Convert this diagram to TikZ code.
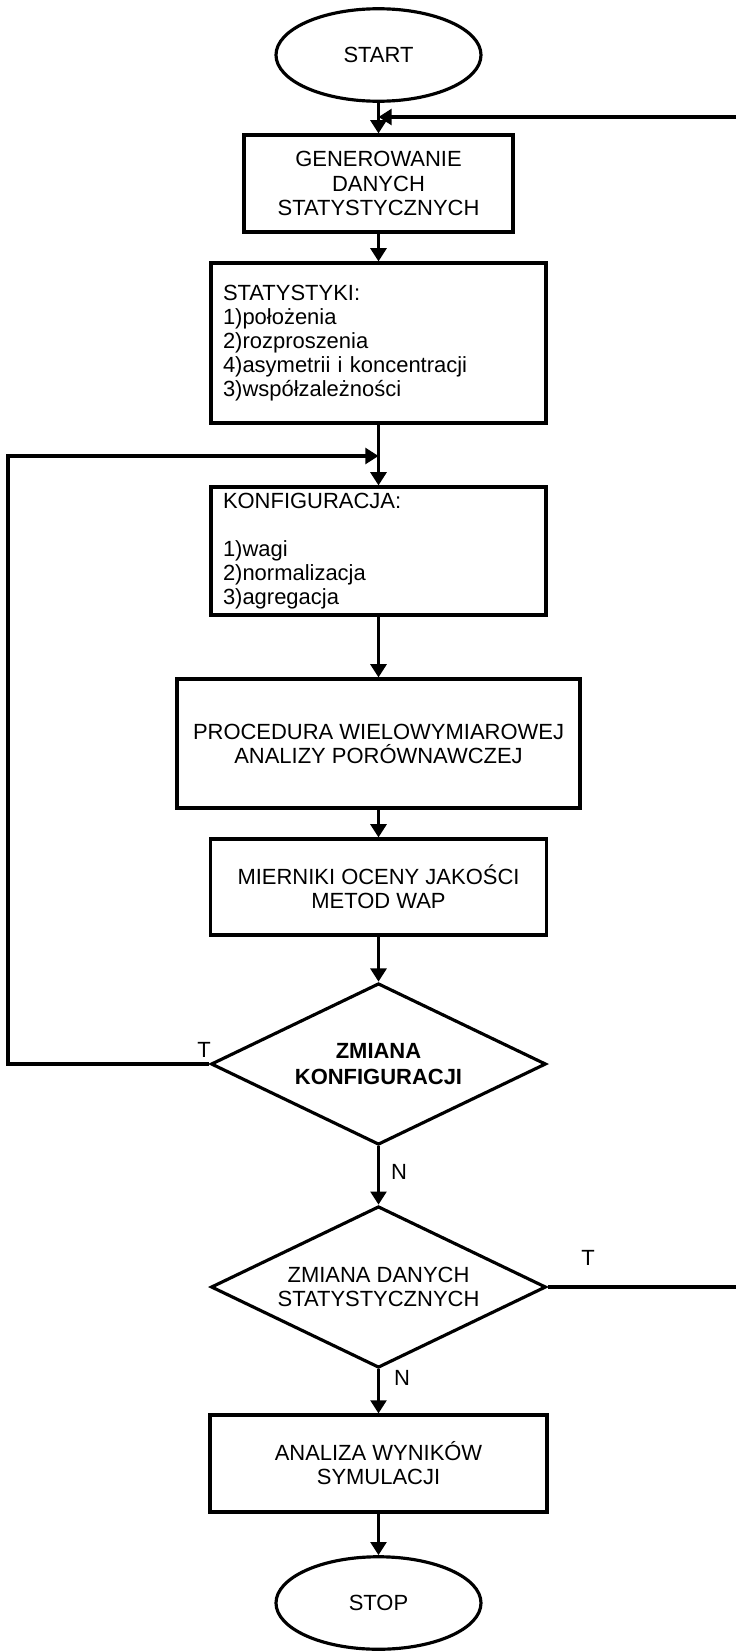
\documentclass[tikz,border=0pt]{standalone}
\usepackage{fontspec}
\setmainfont{Liberation Sans}
\usetikzlibrary{arrows.meta,shapes.geometric,calc}

\begin{document}
\begin{tikzpicture}[
  line width=1.8pt,
  every node/.style={font=\fontsize{12.5}{13.7}\selectfont},
  box/.style={draw,rectangle,align=center,inner sep=0pt},
  listbox/.style={draw,rectangle,align=left,inner xsep=0.24cm,inner ysep=0pt,text width=6.22cm},
  term/.style={draw,ellipse,minimum width=4.1cm,minimum height=1.85cm,inner sep=0pt},
  decision/.style={draw,diamond,shape aspect=2.07,minimum width=6.7cm,minimum height=3.23cm,inner sep=0pt,align=center},
  arr/.style={-{Triangle[length=7.5pt,width=9pt]}}
]
\useasboundingbox (0,0) rectangle (14.72,-33.02);
% the blocks of the chart
\node[term] (start) at (7.57,-1.10) {START};
\node[box,minimum width=5.38cm,minimum height=1.94cm] (gen) at (7.57,-3.67) {GENEROWANIE\\DANYCH\\STATYSTYCZNYCH};
\node[listbox,minimum height=3.2cm] (stat) at (7.57,-6.86) {STATYSTYKI:\\1)położenia\\2)rozproszenia\\4)asymetrii i koncentracji\\3)współzależności};
\node[listbox,minimum height=2.56cm] (konf) at (7.57,-11.02) {KONFIGURACJA:\\[13.7pt]1)wagi\\2)normalizacja\\3)agregacja};
\node[box,minimum width=8.06cm,minimum height=2.58cm] (proc) at (7.57,-14.87) {PROCEDURA WIELOWYMIAROWEJ\\ANALIZY PORÓWNAWCZEJ};
\node[box,minimum width=6.72cm,minimum height=1.92cm] (mier) at (7.57,-17.74) {MIERNIKI OCENY JAKOŚCI\\METOD WAP};
\node[decision,font=\fontsize{12.5}{14.6}\selectfont\bfseries] (zk) at (7.57,-21.28) {ZMIANA\\KONFIGURACJI};
\node[decision] (zd) at (7.57,-25.74) {ZMIANA DANYCH\\STATYSTYCZNYCH};
\node[box,minimum width=6.74cm,minimum height=1.94cm] (anal) at (7.57,-29.27) {ANALIZA WYNIKÓW\\SYMULACJI};
\node[term] (stop) at (7.57,-32.06) {STOP};
% the T and N answers
\node (zkT) at (4.08,-21.0) {T};
\node (zkN) at (7.98,-23.44) {N};
\node (zdT) at (11.76,-25.16) {T};
\node (zdN) at (8.04,-27.56) {N};
% the points of the loops
\coordinate (loopin) at (7.57,-2.34);
\coordinate (loopr) at (14.72,-2.34);
\coordinate (loopl) at (0.16,-9.12);
\coordinate (merge) at (7.57,-9.12);
\coordinate (zdr) at (14.72,-25.74);
% the main line
\draw[arr] (start) -- (gen);
\draw[arr] (gen) -- (stat);
\draw[arr] (stat) -- (konf);
\draw[arr] (konf) -- (proc);
\draw[arr] (proc) -- (mier);
\draw[arr] (mier) -- (zk);
\draw[arr] (zk) -- (zd);
\draw[arr] (zd) -- (anal);
\draw[arr] (anal) -- (stop);
% the loops back
\draw[arr] (zk.west) -| (loopl) -- (merge);
\draw (zd.east) -- (zdr);
\draw[arr] (loopr) -- (loopin);
\end{tikzpicture}
\end{document}
